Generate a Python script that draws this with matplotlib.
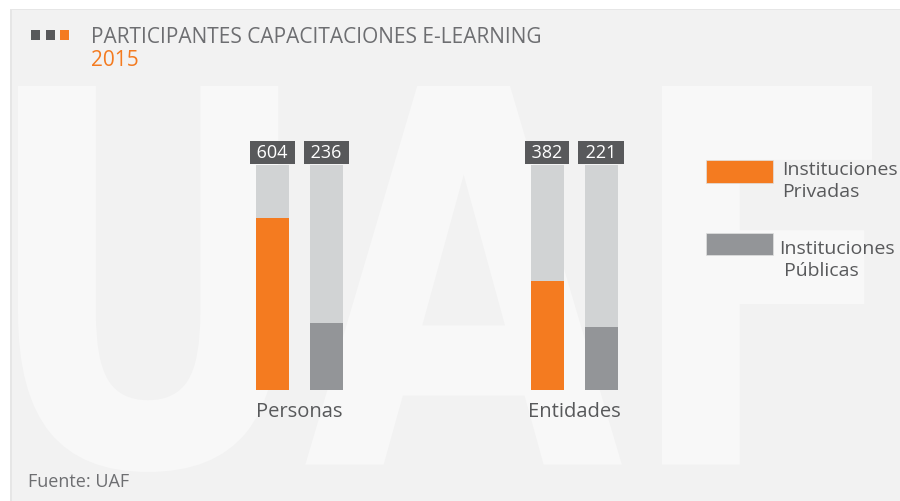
import matplotlib
matplotlib.use("Agg")
import matplotlib.pyplot as plt
from matplotlib.patches import Rectangle, PathPatch
from matplotlib.textpath import TextPath
from matplotlib.font_manager import FontProperties
from matplotlib.transforms import Affine2D
import numpy as np

# ---- data ----
categories = ["Personas", "Entidades"]
series_names = ["Instituciones\nPrivadas", "Instituciones\nPúblicas"]
privadas = [604, 382]
publicas = [236, 221]
track_max = 790

title = "PARTICIPANTES CAPACITACIONES E-LEARNING"
subtitle = "2015"
source = "Fuente: UAF"

ORANGE = "#f47b20"
GRAY = "#939598"
TRACK = "#d1d3d4"
DARK = "#58595b"
TEXT = "#6d6e71"
PANEL = "#f2f2f2"
FONT = "Open Sans"

W, H = 900, 501
fig = plt.figure(figsize=(W / 100, H / 100), dpi=100, facecolor="white")

# background axes in pixel coords
bg = fig.add_axes([0, 0, 1, 1])
bg.set_xlim(0, W)
bg.set_ylim(H, 0)
bg.axis("off")
bg.add_patch(Rectangle((10, 9), 900, 500, facecolor="#e6e6e6", edgecolor="none"))
bg.add_patch(Rectangle((12, 10), 900, 500, facecolor=PANEL, edgecolor="none"))

# watermark UAF
fp = FontProperties(family="DejaVu Sans", weight="bold")
tp = TextPath((0, 0), "UAF", size=100, prop=fp)
ext = tp.get_extents()
x0, x1, y0, y1 = 18, 872, 86, 472
tr = (Affine2D().translate(-ext.x0, -ext.y0)
      .scale((x1 - x0) / ext.width, -(y1 - y0) / ext.height)
      .translate(x0, y1))
bg.add_patch(PathPatch(tr.transform_path(tp), facecolor="#f8f8f8", edgecolor="none"))

# title
for i, c in enumerate([DARK, DARK, ORANGE]):
    bg.add_patch(Rectangle((31 + i * 14.5, 30), 9, 9.5, facecolor=c, edgecolor="none"))
bg.text(91, 37, title, fontsize=15, color=TEXT, family=FONT, va="center", ha="left")
bg.text(91, 60, subtitle, fontsize=15, color=ORANGE, family=FONT, va="center", ha="left")
bg.text(28, 482, source, fontsize=13, color=TEXT, family=FONT, va="center", ha="left")

# legend
bg.add_patch(Rectangle((706, 160), 67, 23, facecolor=ORANGE, edgecolor="#e0e0e0", lw=0.5))
bg.add_patch(Rectangle((706, 233), 67, 22, facecolor=GRAY, edgecolor="#e0e0e0", lw=0.5))
bg.text(782, 181, series_names[0], fontsize=14, color=DARK, family=FONT,
        va="center", ha="left", linespacing=1.3)
bg.text(779, 260, series_names[1].split("\n")[0] + "\n " + series_names[1].split("\n")[1],
        fontsize=14, color=DARK, family=FONT, va="center", ha="left", linespacing=1.3)

# bar axes
ax_l, ax_r, ax_t, ax_b = 230, 650, 165, 390
ax = fig.add_axes([ax_l / W, 1 - ax_b / H, (ax_r - ax_l) / W, (ax_b - ax_t) / H])
ax.set_facecolor("none")
ax.axis("off")
unit = 274.5
ax.set_xlim((ax_l - 299.5) / unit, (ax_r - 299.5) / unit)
ax.set_ylim(0, track_max)

x = np.arange(len(categories))
bw = 33 / unit
off = 27 / unit
for vals, dx, col in [(privadas, -off, ORANGE), (publicas, off, GRAY)]:
    ax.bar(x + dx, [track_max] * len(x), width=bw, color=TRACK)
    ax.bar(x + dx, vals, width=bw, color=col)
    for xi, v in zip(x + dx, vals):
        ax.annotate(f" {v} ", (xi, track_max), xytext=(0, 9), textcoords="offset points",
                    ha="center", va="center", color="white", fontsize=13, family=FONT,
                    bbox=dict(boxstyle="square,pad=0.14", facecolor=DARK, edgecolor="none"),
                    annotation_clip=False)
for xi, c in zip(x, categories):
    ax.annotate(c, (xi, 0), xytext=(0, -16), textcoords="offset points",
                ha="center", va="center", color=DARK, fontsize=14.5, family=FONT,
                annotation_clip=False)

fig.savefig("out.png", dpi=100, facecolor="white")
